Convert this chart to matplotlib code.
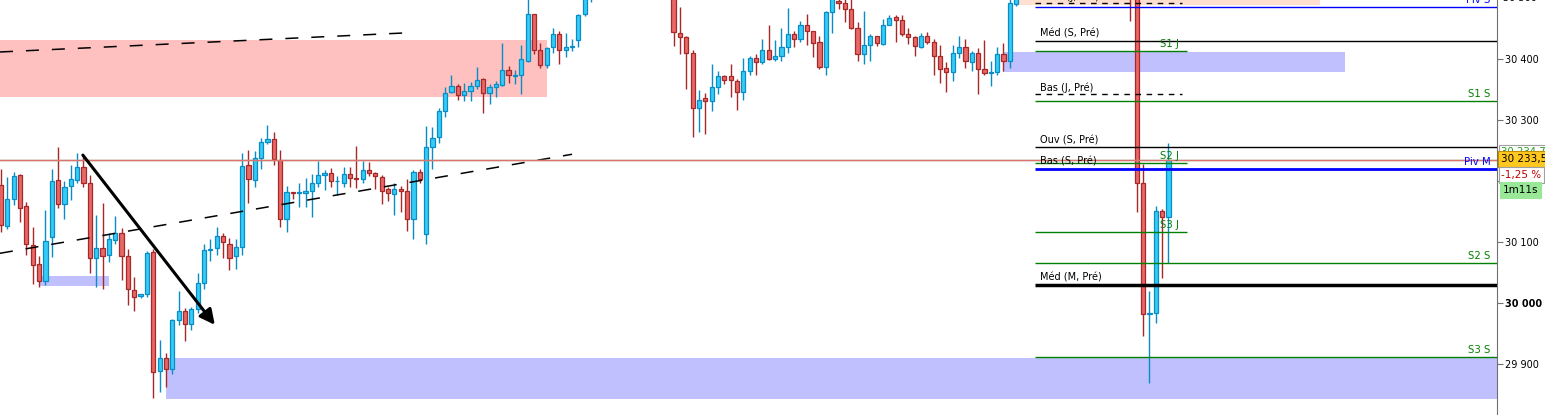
import numpy as np
import matplotlib
matplotlib.use('Agg')
import matplotlib.pyplot as plt
from matplotlib.patches import Rectangle

nan = float('nan')

# OHLC par bougie (nan = bougie hors de la zone visible)
opens = [30193, 30126, 30170, 30209, 30158, 30094, 30063, 30036, 30107, 30201,
         30161, 30191, 30201, 30222, 30197, 30073, 30089, 30078, 30102, 30115,
         30076, 30020, 30011, 30014, 30083, 29888, 29909, 29891, 29971, 29986,
         29965, 29989, 30033, 30086, 30089, 30110, 30097, 30076, 30091, 30225,
         30201, 30238, 30263, 30268, 30234, 30137, 30182, 30179, 30180, 30183,
         30197, 30209, 30212, 30199, 30197, 30211, 30204, 30202, 30217, 30212,
         30206, 30186, 30178, 30187, 30183, 30137, 30214, 30112, 30255, 30271,
         30314, 30345, 30356, 30340, 30347, 30355, 30366, 30343, 30353, 30357,
         30381, 30371, 30373, 30397, 30473, 30414, 30389, 30419, 30440, 30415,
         30419, 30430, 30473, 30515,
         nan, nan, nan, nan, nan, nan, nan, nan, nan, nan, nan, nan,
         30520, 30442, 30435, 30409, 30319, 30335, 30330, 30353, 30371, 30371,
         30363, 30345, 30379, 30401, 30394, 30415, 30399, 30405, 30419, 30440,
         30432, 30456, 30445, 30427, 30387, 30476, 30495, 30492, 30481, 30451,
         30407, 30422, 30437, 30424, 30456, 30468, 30463, 30440, 30435, 30419,
         30438, 30428, 30404, 30384, 30378, 30410, 30419, 30394, 30409, 30383,
         30376, 30378, 30407, 30396, 30489,
         nan, nan, nan, nan, nan, nan, nan, nan, nan, nan, nan, nan, nan, nan, nan, nan, nan,
         30560, 30520, 30197, 29981, 29983, 30150, 30140]
highs = [30219, 30206, 30214, 30211, 30165, 30124, 30076, 30152, 30219, 30255,
         30199, 30225, 30245, 30242, 30210, 30143, 30164, 30115, 30142, 30122,
         30088, 30042, 30015, 30084, 30088, 29939, 29918, 29974, 30019, 29992,
         29993, 30048, 30096, 30104, 30124, 30115, 30106, 30104, 30245, 30250,
         30249, 30270, 30291, 30279, 30250, 30191, 30182, 30196, 30204, 30211,
         30232, 30217, 30220, 30208, 30222, 30222, 30257, 30232, 30230, 30215,
         30209, 30190, 30196, 30192, 30202, 30217, 30219, 30290, 30288, 30319,
         30353, 30373, 30358, 30360, 30362, 30386, 30369, 30358, 30363, 30426,
         30388, 30381, 30422, 30505, 30474, 30425, 30419, 30450, 30446, 30442,
         30432, 30473, 30520, 30540,
         nan, nan, nan, nan, nan, nan, nan, nan, nan, nan, nan, nan,
         30530, 30484, 30437, 30414, 30349, 30343, 30391, 30380, 30373, 30391,
         30366, 30401, 30404, 30407, 30433, 30456, 30430, 30451, 30483, 30445,
         30461, 30473, 30446, 30438, 30478, 30510, 30500, 30498, 30499, 30460,
         30478, 30440, 30437, 30465, 30471, 30471, 30471, 30450, 30437, 30442,
         30443, 30433, 30422, 30394, 30422, 30438, 30432, 30412, 30417, 30430,
         30396, 30419, 30425, 30500, 30530,
         nan, nan, nan, nan, nan, nan, nan, nan, nan, nan, nan, nan, nan, nan, nan, nan, nan,
         30570, 30530, 30228, 30019, 30158, 30153, 30261]
lows = [30116, 30120, 30160, 30133, 30079, 30030, 30026, 30029, 30075, 30156,
        30137, 30168, 30197, 30190, 30048, 30025, 30022, 30066, 30097, 30038,
        29996, 29987, 30008, 30009, 29843, 29853, 29861, 29883, 29964, 29938,
        29955, 29983, 30023, 30069, 30078, 30073, 30053, 30056, 30079, 30164,
        30189, 30219, 30260, 30226, 30124, 30116, 30170, 30157, 30157, 30141,
        30190, 30185, 30190, 30176, 30190, 30190, 30188, 30197, 30208, 30186,
        30161, 30166, 30143, 30148, 30118, 30104, 30196, 30097, 30219, 30261,
        30304, 30343, 30333, 30330, 30330, 30351, 30311, 30326, 30337, 30355,
        30360, 30358, 30342, 30394, 30407, 30384, 30384, 30410, 30391, 30402,
        30413, 30419, 30470, 30493,
        nan, nan, nan, nan, nan, nan, nan, nan, nan, nan, nan, nan,
        30421, 30407, 30351, 30271, 30279, 30277, 30315, 30342, 30358, 30338,
        30316, 30333, 30374, 30374, 30391, 30398, 30397, 30397, 30410, 30419,
        30428, 30422, 30403, 30383, 30374, 30442, 30481, 30460, 30448, 30397,
        30391, 30397, 30420, 30422, 30455, 30427, 30437, 30424, 30404, 30417,
        30424, 30374, 30360, 30345, 30363, 30401, 30384, 30379, 30342, 30374,
        30355, 30373, 30379, 30384, 30487,
        nan, nan, nan, nan, nan, nan, nan, nan, nan, nan, nan, nan, nan, nan, nan, nan, nan,
        30461, 30149, 29946, 29869, 29966, 30040, 30065]
closes = [30127, 30170, 30207, 30156, 30096, 30061, 30036, 30101, 30199, 30161,
          30189, 30202, 30222, 30196, 30073, 30089, 30076, 30104, 30115, 30076,
          30022, 30010, 30014, 30081, 29886, 29910, 29892, 29971, 29986, 29965,
          29989, 30033, 30086, 30088, 30110, 30099, 30074, 30092, 30224, 30202,
          30238, 30263, 30268, 30235, 30137, 30181, 30179, 30182, 30183, 30197,
          30209, 30212, 30199, 30200, 30211, 30204, 30202, 30217, 30212, 30207,
          30183, 30179, 30187, 30183, 30137, 30214, 30202, 30255, 30270, 30314,
          30343, 30355, 30340, 30347, 30355, 30365, 30343, 30353, 30358, 30381,
          30373, 30373, 30399, 30473, 30415, 30389, 30417, 30440, 30414, 30419,
          30420, 30471, 30510, 30530,
          nan, nan, nan, nan, nan, nan, nan, nan, nan, nan, nan, nan,
          30443, 30435, 30409, 30319, 30333, 30330, 30353, 30371, 30365, 30365,
          30346, 30379, 30401, 30394, 30415, 30399, 30405, 30419, 30440, 30433,
          30456, 30445, 30425, 30386, 30476, 30501, 30492, 30481, 30451, 30407,
          30422, 30437, 30425, 30456, 30466, 30463, 30440, 30435, 30420, 30438,
          30428, 30405, 30383, 30378, 30410, 30419, 30396, 30409, 30383, 30376,
          30378, 30407, 30396, 30491, 30520,
          nan, nan, nan, nan, nan, nan, nan, nan, nan, nan, nan, nan, nan, nan, nan, nan, nan,
          30520, 30197, 29981, 29983, 30150, 30140, 30233.5]

# niveaux (nom, valeur)
lvl_long_names = ['Piv S', 'Méd (S, Pré)', 'S1 S', 'Ouv (S, Pré)', 'Piv M', 'S2 S', 'Méd (M, Pré)', 'S3 S']
lvl_long_vals = [30484.7, 30429, 30330.6, 30255.2, 30219.2, 30064.6, 30029, 29911]
lvl_short_names = ['S1 J', 'S2 J', 'S3 J']
lvl_short_vals = [30412, 30228.5, 30115.4]
lvl_dash_names = ['Haut (J, Pré)', 'Bas (J, Pré)']
lvl_dash_vals = [30490.8, 30341.6]
bas_s_pre = 30219.2

last_price = 30233.5
ask_price = 30234.7
pct_change = '-1,25 %'
timer = '1m11s'

y_ticks = [29900, 30000, 30100, 30200, 30300, 30400]

bull_fill, bull_edge = '#35CDF5', '#0A8DC6'
bear_fill, bear_edge = '#E86868', '#A82828'

fig = plt.figure(figsize=(15.45, 4.15), dpi=100)
ax = fig.add_axes([0, 0, 1497 / 1545, 1])
x_right = 235.78
ax.set_xlim(-0.158, x_right)
ax.set_ylim(29815.9, 30496.2)

# zones
zones = [(-0.16, 86.05, 30337, 30431, '#FFC0C0'),
         (26.0, x_right, 29842.6, 29909.3, '#C0C0FF'),
         (6.15, 17.0, 30027.4, 30043.8, '#C0C0FF'),
         (157.9, 211.9, 30378.7, 30411.5, '#C0C0FF'),
         (160.5, 207.9, 30488, 30500, '#FFE0D0')]
for x0, x1, y0, y1, c in zones:
    ax.add_patch(Rectangle((x0, y0), x1 - x0, y1 - y0, fc=c, ec='none', zorder=0.5))

# bougies
for i in range(len(opens)):
    o, h, l, c = opens[i], highs[i], lows[i], closes[i]
    if np.isnan(o):
        continue
    up = c >= o
    fc, ec = (bull_fill, bull_edge) if up else (bear_fill, bear_edge)
    ax.vlines(i, l, h, color=ec, lw=1.0, zorder=2)
    ax.bar(i, max(abs(c - o), 0.8), bottom=min(o, c), width=0.66, color=fc,
           edgecolor=ec, lw=0.9, zorder=3)

# droites de tendance
ax.plot([-0.16, 65.25], [30411, 30443], color='black', lw=1.1, dashes=(8.5, 8.5), zorder=4)
ax.plot([-0.16, 90.0], [30081, 30243.3], color='black', lw=1.1, dashes=(8.5, 8.5), zorder=4)
ax.annotate('', xy=(33.7, 29963.7), xytext=(12.9, 30242),
            arrowprops=dict(arrowstyle='-|>,head_length=0.9,head_width=0.45', lw=2.2,
                            color='black', shrinkA=0, shrinkB=0), zorder=5)

# niveaux
x_lvl = 163.0
off = 11.5
for name, v in zip(lvl_long_names, lvl_long_vals):
    if name.startswith('Piv'):
        col = '#0000FF'
        lw = 2.0 if name == 'Piv M' else 1.0
    elif name.startswith('S'):
        col = '#008000'
        lw = 1.0
    else:
        col = 'black'
        lw = 2.5 if name == 'Méd (M, Pré)' else 1.0
    ax.hlines(v, x_lvl, x_right, color=col, lw=lw, zorder=4)
    if col == 'black':
        ax.text(163.7, v + off, name, fontsize=7, va='center', ha='left', zorder=6)
    else:
        ax.text(234.8, v + off, name, fontsize=7.3, va='center', ha='right',
                color=col, zorder=6)
for name, v in zip(lvl_short_names, lvl_short_vals):
    ax.hlines(v, x_lvl, 186.9, color='#008000', lw=1.0, zorder=4)
    ax.text(182.7, v + off, name, fontsize=7.3, va='center', ha='left',
            color='#008000', zorder=6)
for name, v in zip(lvl_dash_names, lvl_dash_vals):
    ax.plot([x_lvl, 186.1], [v, v], color='black', lw=1.0, dashes=(4, 4), zorder=4)
    ax.text(163.7, v + off, name, fontsize=7, va='center', ha='left', zorder=6)
ax.text(163.7, bas_s_pre + off, 'Bas (S, Pré)', fontsize=7, va='center', ha='left', zorder=6)

# prix courant
ax.axhline(ask_price, color='#80C080', lw=1.0, zorder=4.5)
ax.axhline(last_price, color='#E07070', lw=1.0, zorder=4.6)

# axe des prix
for s in ['top', 'left', 'bottom']:
    ax.spines[s].set_visible(False)
ax.spines['right'].set_color('#707070')
ax.set_xticks([])
ax.yaxis.tick_right()
ax.set_yticks(y_ticks)
ax.set_yticklabels([f'{t:,}'.replace(',', ' ') for t in y_ticks], fontsize=7)
ax.tick_params(axis='y', length=4, width=0.8, color='#707070', pad=2)
for lab in ax.get_yticklabels():
    if lab.get_text() == '30 000':
        lab.set_fontweight('bold')
tr = ax.get_yaxis_transform()
ax.text(1.004, 30500, '30 500', transform=tr, fontsize=7, va='center', clip_on=False)

ax.text(1.003, 30247, f'{ask_price:,.1f}'.replace(',', ' ').replace('.', ','), transform=tr,
        fontsize=7.3, color='#20A020', va='center', clip_on=False, zorder=7,
        bbox=dict(boxstyle='square,pad=0.2', fc='white', ec='#A0A0A0', lw=0.8))
ax.text(1.003, 30235, f'{last_price:,.1f}'.replace(',', ' ').replace('.', ','), transform=tr,
        fontsize=7.5, color='black', va='center', clip_on=False, zorder=8,
        bbox=dict(boxstyle='square,pad=0.3', fc='#FFC820', ec='#C09000', lw=0.8))
ax.text(1.003, 30209.3, pct_change, transform=tr, fontsize=7.5, color='#C00000',
        va='center', clip_on=False, zorder=8,
        bbox=dict(boxstyle='square,pad=0.25', fc='white', ec='#A0A0A0', lw=0.8))
ax.text(1.004, 30184.7, timer, transform=tr, fontsize=7.5, color='black',
        va='center', clip_on=False, zorder=8,
        bbox=dict(boxstyle='square,pad=0.25', fc='#98E898', ec='#98E898', lw=0.8))

fig.savefig('out.png', dpi=100, facecolor='white')
